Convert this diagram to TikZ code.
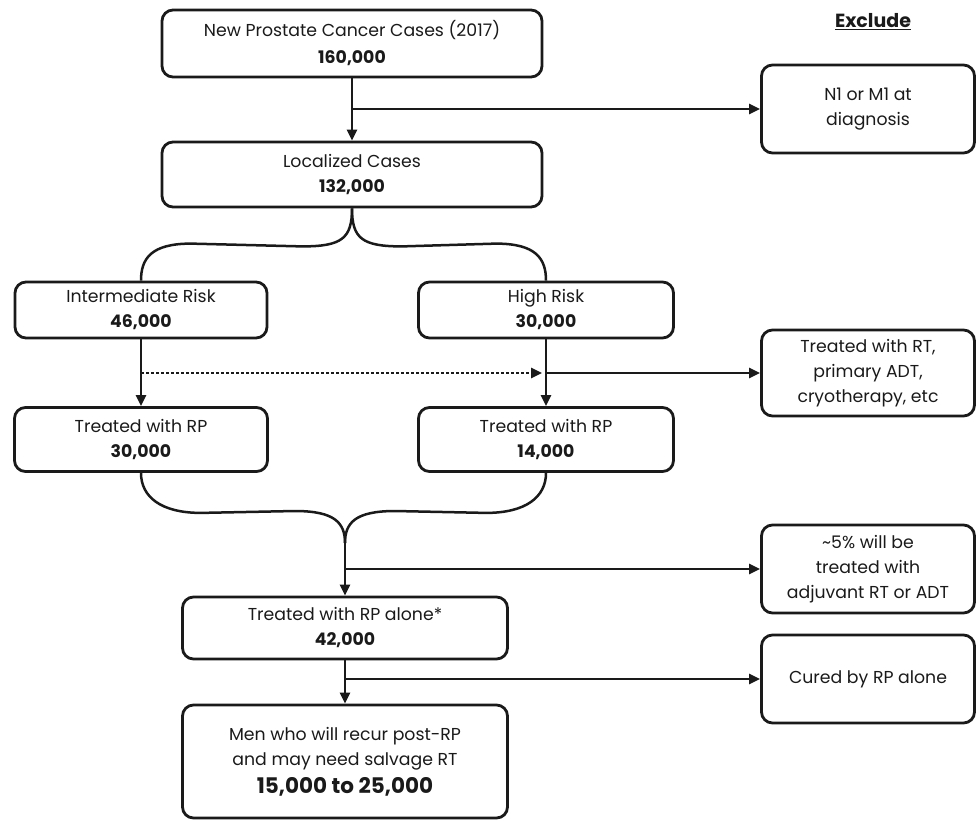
\documentclass[tikz,border=0pt]{standalone}
\usepackage{fontspec}
\setmainfont{Poppins}
\usetikzlibrary{arrows.meta,calc}
\definecolor{ink}{HTML}{1A1A1A}
\newcommand\boxfont{\fontsize{17.3}{25}\selectfont}
\begin{document}
\begin{tikzpicture}[x=1pt,y=-1pt,
  ln/.style={draw=ink, line width=2.5pt},
  arr/.style={ln, -{Triangle[length=11pt,width=10pt]}},
  dotarr/.style={arr, dash pattern=on 2.5pt off 2.5pt},
  box/.style={draw=ink, line width=2.8pt, rounded corners=11pt, align=center,
    text=ink, inner sep=0pt, font=\boxfont},
  sidebox/.style={box, minimum width=213, minimum height=88}]
\useasboundingbox (0,0) rectangle (976,820);

\node[box, minimum width=380, minimum height=67] (b1) at (352,43.5)
  {New Prostate Cancer Cases (2017)\\[2pt]\textbf{160,000}};
\node[font=\fontsize{19}{24}\selectfont\bfseries, text=ink] (exh) at (873,22) {\underline{Exclude}};
\node[sidebox] (ex1) at (868,109) {N1 or M1 at\\diagnosis};
\node[box, minimum width=380, minimum height=65] (b2) at (352,174.5)
  {Localized Cases\\\textbf{132,000}};
\node[box, minimum width=252, minimum height=56] (ir) at (141,310)
  {Intermediate Risk\\\textbf{46,000}};
\node[box, minimum width=255, minimum height=56] (hr) at (546,310)
  {High Risk\\\textbf{30,000}};
\node[box, minimum width=253, minimum height=64] (tl) at (141,439.5)
  {Treated with RP\\\textbf{30,000}};
\node[box, minimum width=255, minimum height=64] (tr) at (546,439.5)
  {Treated with RP\\\textbf{14,000}};
\node[sidebox, minimum height=86] (rt) at (868,373)
  {Treated with RT,\\primary ADT,\\cryotherapy, etc};
\node[box, minimum width=325, minimum height=62] (ra) at (345,628)
  {Treated with RP alone*\\\textbf{42,000}};
\node[sidebox] (ex3) at (868,569)
  {\textasciitilde5\% will be\\treated with\\adjuvant RT or ADT};
\node[sidebox] (cured) at (868,679) {Cured by RP alone};
\node[box, minimum width=325, minimum height=113] (fin) at (345,761.5)
  {Men who will recur post-RP\\and may need salvage RT\\[3pt]
   {\fontsize{21.5}{26}\selectfont\bfseries 15,000 to 25,000}};

% top section
\draw[arr] (b1) -- (b2);
\draw[arr] (b1.south |- ex1.west) -- (ex1.west);

% brace 1
\draw[ln] (b2.south) .. controls +(0,30) and +(40,0) .. ($(b2.south)+(-50,38)$)
  -- ($(ir.north)+(50,-37)$) .. controls +(-40,0) and +(0,-22) .. (ir.north);
\draw[ln] (b2.south) .. controls +(0,30) and +(-40,0) .. ($(b2.south)+(50,38)$)
  -- ($(hr.north)+(-50,-37)$) .. controls +(40,0) and +(0,-22) .. (hr.north);

% risk to treated
\draw[arr] (ir) -- (tl);
\draw[arr] (hr) -- (tr);
\coordinate (dl) at (ir.south |- rt.west);
\coordinate (dr) at (hr.south |- rt.west);
\draw[dotarr, shorten >=4pt] (dl) -- (dr);
\draw[arr] (dr) -- (rt.west);

% brace 2
\coordinate (c2) at (345,543);
\draw[ln] (tl.south) .. controls +(0,24) and +(-40,0) .. ($(tl.south)+(60,40)$)
  -- ($(c2)+(-50,-32)$) .. controls +(40,0) and +(0,-20) .. (c2);
\draw[ln] (tr.south) .. controls +(0,24) and +(40,0) .. ($(tr.south)+(-60,40)$)
  -- ($(c2)+(50,-32)$) .. controls +(-40,0) and +(0,-20) .. (c2);
\draw[arr] (c2) -- (ra.north);
\draw[arr] (c2 |- ex3.west) -- (ex3.west);

% bottom
\draw[arr] (ra) -- (fin);
\draw[arr] (ra.south |- cured.west) -- (cured.west);
\end{tikzpicture}
\end{document}
